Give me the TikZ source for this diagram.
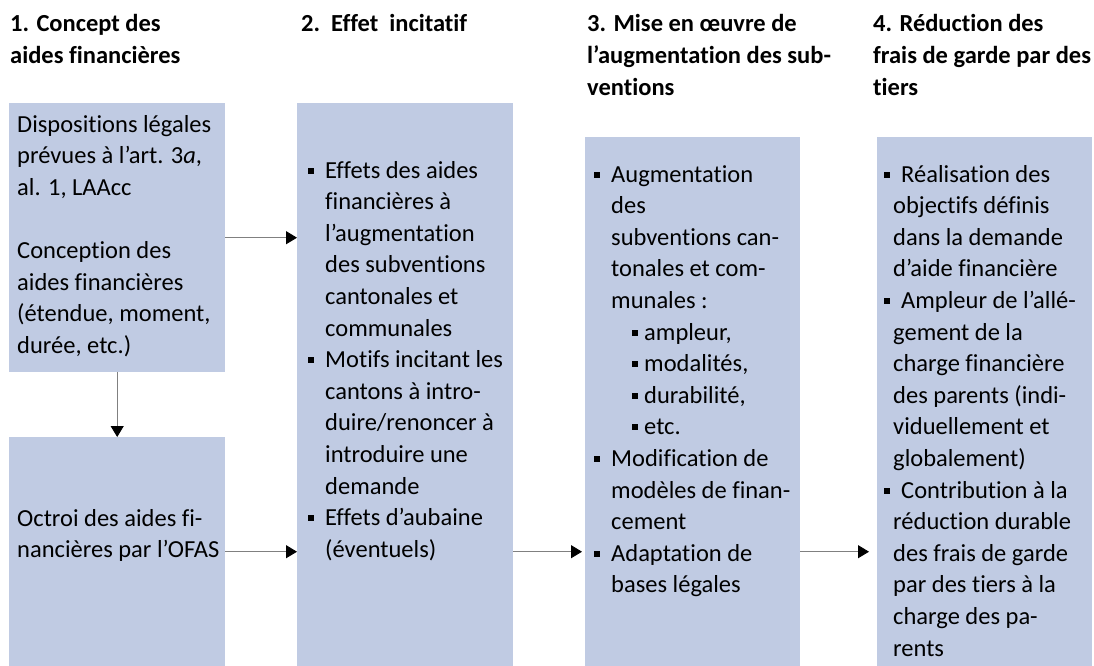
\documentclass[tikz,border=0pt]{standalone}
\usepackage{fontspec}
\setmainfont{Carlito}[Ligatures=NoCommon]
\usetikzlibrary{arrows.meta}
\definecolor{boxblue}{HTML}{C0CBE3}
\definecolor{arrgray}{HTML}{808080}
\newcommand\bl{\makebox[17pt][l]{\rule[4.5pt]{6pt}{6pt}}}
\newcommand\ind{\hspace*{17pt}}
\newcommand\indb{\hspace*{9pt}}
\newcommand\sbl{\hspace*{38pt}\makebox[12pt][l]{\rule[4.5pt]{6pt}{6pt}}}
\newcommand\txt[1]{\parbox[t]{300pt}{\fontsize{24.5}{31.6}\selectfont\raggedright #1}}
\tikzset{
  box/.style={fill=boxblue, draw=none, inner sep=0pt, anchor=north west},
  tx/.style={inner sep=0pt, anchor=base west},
  arr/.style={draw=arrgray, line width=0.9pt, -{Triangle[width=13pt,length=11pt,color=black]}},
}
\begin{document}
\begin{tikzpicture}[x=1pt,y=-1pt]
\useasboundingbox (0,0) rectangle (1094,666);
% boxes
\node[box, minimum width=216pt, minimum height=269pt] (b1a) at (9,103) {};
\node[box, minimum width=216pt, minimum height=229pt] (b1b) at (9,437) {};
\node[box, minimum width=216pt, minimum height=563pt] (b2) at (297,103) {};
\node[box, minimum width=215pt, minimum height=529pt] (b3) at (585,137) {};
\node[box, minimum width=215pt, minimum height=529pt] (b4) at (877,137) {};
% titles
\node[tx] (h1) at (10,32) {\txt{\bfseries 1. Concept des\\aides financières}};
\node[tx] (h2) at (301,32) {\txt{\bfseries 2.\ \ Effet\ \ incitatif}};
\node[tx] (h3) at (587,32) {\txt{\bfseries 3. Mise en œuvre de\\l’augmentation des sub-\\ventions}};
\node[tx] (h4) at (873,32) {\txt{\bfseries 4. Réduction des\\frais de garde par des\\tiers}};
% texts
\node[tx] (t1a) at (17,132) {\txt{Dispositions légales\\prévues à l’art. 3\textit{a},\\al. 1, LAAcc\\[31.6pt]Conception des\\aides financières\\(étendue, moment,\\durée, etc.)}};
\node[tx] (t1b) at (17,526) {\txt{Octroi des aides fi-\\nancières par l’OFAS}};
\node[tx] (t2) at (308,178) {\txt{\bl Effets des aides\\\ind financières à\\\ind l’augmentation\\\ind des subventions\\\ind cantonales et\\\ind communales\\\bl Motifs incitant les\\\ind cantons à intro-\\\ind duire/renoncer à\\\ind introduire une\\\ind demande\\\bl Effets d’aubaine\\\ind (éventuels)}};
\node[tx] (t3) at (594,182) {\txt{\bl Augmentation\\\ind des\\\ind subventions can-\\\ind tonales et com-\\\ind munales :\\\sbl ampleur,\\\sbl modalités,\\\sbl durabilité,\\\sbl etc.\\\bl Modification de\\\ind modèles de finan-\\\ind cement\\\bl Adaptation de\\\ind bases légales}};
\node[tx] (t4) at (884,182) {\txt{\bl Réalisation des\\\indb objectifs définis\\\indb dans la demande\\\indb d’aide financière\\\bl Ampleur de l’allé-\\\indb gement de la\\\indb charge financière\\\indb des parents (indi-\\\indb viduellement et\\\indb globalement)\\\bl Contribution à la\\\indb réduction durable\\\indb des frais de garde\\\indb par des tiers à la\\\indb charge des pa-\\\indb rents}};
% connectors
\draw[arr] (b1a.east) -- (b1a.east -| b2.west);
\draw[arr] (b1b.east) -- (b1b.east -| b2.west);
\draw[arr] (b1a.south) -- (b1b.north);
\draw[arr] (b2.east |- b1b.east) -- ([xshift=-3pt]b3.west |- b1b.east);
\draw[arr] (b3.east |- b1b.east) -- ([xshift=-8pt]b4.west |- b1b.east);
\end{tikzpicture}
\end{document}
